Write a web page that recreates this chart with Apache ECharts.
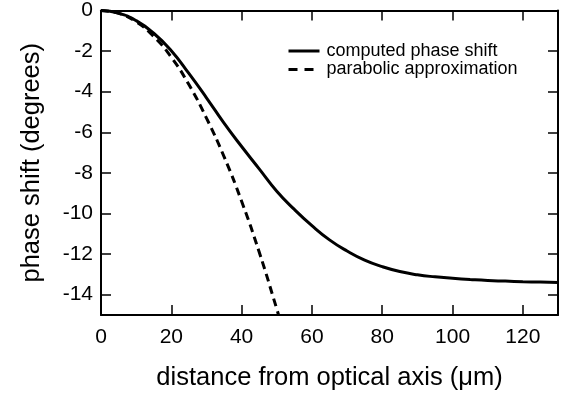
<!DOCTYPE html>
<html>
<head>
<meta charset="utf-8">
<script src="https://cdn.jsdelivr.net/npm/echarts@6/dist/echarts.min.js"></script>
<style>html,body{margin:0;padding:0;background:#fff}#c{width:569px;height:396px}</style>
</head>
<body>
<div id="c"></div>
<script>
// distance from optical axis (µm)
const computedX = [0,5,10,15,20,25,30,35,40,45,50,55,60,65,70,75,80,85,90,95,100,105,110,115,120,125,130];
const computedY = [0,-0.13,-0.5,-1.12,-1.98,-3.1,-4.3,-5.55,-6.7,-7.8,-8.9,-9.8,-10.6,-11.3,-11.85,-12.3,-12.62,-12.86,-13.02,-13.12,-13.19,-13.25,-13.3,-13.33,-13.36,-13.38,-13.4];
const parabolicX = [0,5,10,15,20,25,30,35,40,45,50,50.5];
const parabolicY = [0,-0.14,-0.56,-1.28,-2.3,-3.65,-5.3,-7.2,-9.4,-11.9,-14.7,-15];
const xTicks = [0,20,40,60,80,100,120];
const yTicks = [0,-2,-4,-6,-8,-10,-12,-14];
const seriesNames = ['computed phase shift','parabolic approximation'];
const xTitle = 'distance from optical axis (μm)';
const yTitle = 'phase shift (degrees)';

const font = 'Liberation Sans, Arial, Helvetica, sans-serif';
const zip = (a,b) => a.map((v,i)=>[v,b[i]]);
const chart = echarts.init(document.getElementById('c'), null, {renderer:'canvas'});
const axisLine = {show:true, onZero:false, lineStyle:{color:'#000', width:2}};
const tick = vals => ({show:true, inside:true, length:10, customValues:vals, lineStyle:{color:'#000', width:1.5}});
chart.setOption({
  animation:false,
  backgroundColor:'#fff',
  grid:{left:101, right:11, top:10, bottom:81},
  legend:{
    orient:'vertical', left:282, top:37, itemWidth:31, itemHeight:14, itemGap:0.5,
    itemStyle:{opacity:0},
    lineStyle:{width:3},
    textStyle:{fontFamily:font, fontSize:18, color:'#000', lineHeight:14, padding:[0,0,0,2]},
    data:[{name:seriesNames[0]},{name:seriesNames[1], lineStyle:{type:[9,7], width:3}}]
  },
  xAxis:[{
    type:'value', min:0, max:130, position:'bottom',
    axisLine:axisLine, axisTick:tick(xTicks), splitLine:{show:false},
    axisLabel:{customValues:xTicks, color:'#000', fontFamily:font, fontSize:21, margin:12},
    name:xTitle, nameLocation:'middle', nameGap:50,
    nameTextStyle:{fontFamily:font, fontSize:25.5, color:'#000'}
  },{
    type:'value', min:0, max:130, position:'top',
    axisLine:axisLine, axisTick:tick(xTicks), splitLine:{show:false}, axisLabel:{show:false}
  }],
  yAxis:[{
    type:'value', min:-15, max:0, position:'left',
    axisLine:axisLine, axisTick:tick(yTicks), splitLine:{show:false},
    axisLabel:{customValues:yTicks, color:'#000', fontFamily:font, fontSize:21, margin:8},
    name:yTitle, nameLocation:'middle', nameGap:56, nameRotate:90,
    nameTextStyle:{fontFamily:font, fontSize:25.5, color:'#000'}
  },{
    type:'value', min:-15, max:0, position:'right',
    axisLine:axisLine, axisTick:tick(yTicks), splitLine:{show:false}, axisLabel:{show:false}
  }],
  series:[{
    name:seriesNames[0], type:'line', data:zip(computedX,computedY), smooth:true,
    showSymbol:false, symbol:'none', lineStyle:{color:'#000', width:3}, itemStyle:{color:'#000'}
  },{
    name:seriesNames[1], type:'line', data:zip(parabolicX,parabolicY), smooth:true,
    showSymbol:false, symbol:'none', lineStyle:{color:'#000', width:3, type:[8,5]}, itemStyle:{color:'#000'}
  }]
});
</script>
</body>
</html>
